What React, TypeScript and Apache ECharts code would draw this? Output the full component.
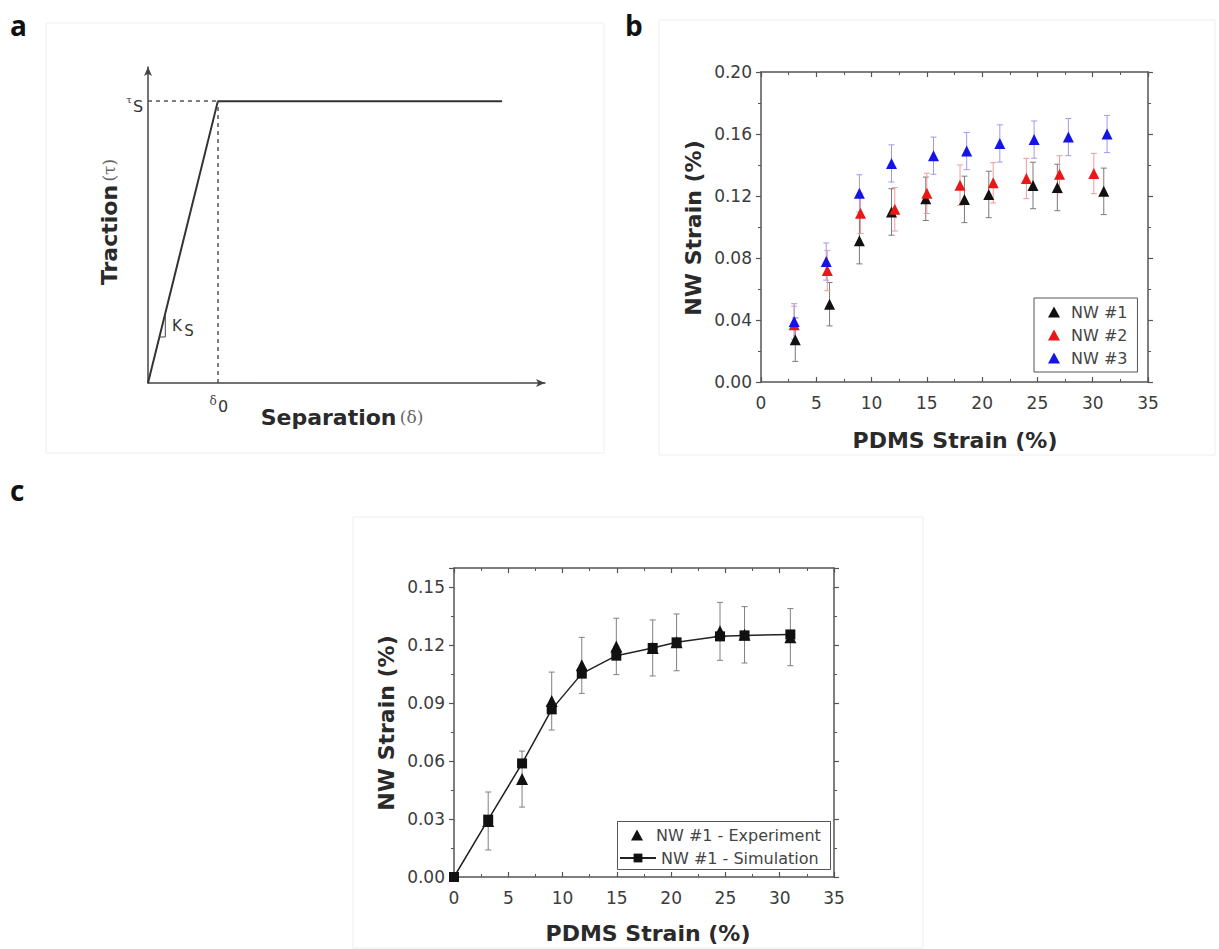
import React, { useEffect, useRef } from 'react';
import * as echarts from 'echarts';

// ---- Panel a (traction–separation law, normalised units) ----
const separation = [0, 0.176, 0.892];
const traction = [0, 0.892, 0.892];
const ksTriX = [0.0287, 0.0436, 0.0436];
const ksTriY = [0.1456, 0.1456, 0.221];

// ---- Panel b ----
const pdmsX1 = [3.1, 6.2, 8.9, 11.8, 14.9, 18.4, 20.6, 24.6, 26.8, 31.0];
const nw1 = [0.0273, 0.0502, 0.0912, 0.1097, 0.1182, 0.1178, 0.121, 0.1268, 0.1255, 0.123];
const nw1Err = [0.014, 0.014, 0.015, 0.015, 0.014, 0.015, 0.015, 0.015, 0.015, 0.015];

const pdmsX2 = [3.0, 6.0, 9.0, 12.1, 15.0, 18.0, 21.0, 24.0, 27.0, 30.1];
const nw2 = [0.0369, 0.0719, 0.1088, 0.1114, 0.1217, 0.127, 0.1285, 0.1313, 0.134, 0.1345];
const nw2Err = [0.012, 0.013, 0.013, 0.014, 0.013, 0.013, 0.013, 0.013, 0.012, 0.013];

const pdmsX3 = [3.0, 5.9, 8.9, 11.8, 15.6, 18.6, 21.6, 24.7, 27.8, 31.3];
const nw3 = [0.039, 0.0777, 0.1217, 0.141, 0.146, 0.149, 0.1539, 0.1564, 0.158, 0.16];
const nw3Err = [0.0115, 0.012, 0.012, 0.012, 0.012, 0.012, 0.012, 0.012, 0.012, 0.012];

const bXTicks = { min: 0, max: 35, interval: 5 };
const bYTicks = { min: 0, max: 0.2, interval: 0.04 };

// ---- Panel c ----
const expX = [3.15, 6.27, 9.0, 11.77, 14.95, 18.3, 20.5, 24.5, 26.76, 30.98];
const expY = [0.029, 0.0507, 0.0911, 0.1096, 0.1194, 0.1186, 0.1215, 0.1272, 0.1254, 0.1242];
const expErr = [0.015, 0.0145, 0.015, 0.0145, 0.0146, 0.0145, 0.0147, 0.015, 0.0146, 0.0148];

const simX = [0, 3.15, 6.27, 9.0, 11.77, 14.95, 18.3, 20.5, 24.5, 26.76, 30.98];
const simY = [0, 0.0297, 0.0588, 0.0868, 0.1053, 0.1146, 0.1186, 0.1215, 0.1246, 0.1251, 0.1256];

const cXTicks = { min: 0, max: 35, interval: 5 };
const cYTicks = { min: 0, max: 0.16, interval: 0.03 };

const AXIS = '#555';
const LABEL = '#3c3c3c';
const TICK_FONT = 'DejaVu Sans';

function boxAxis(
  gridIndex: number,
  position: string,
  t: { min: number; max: number; interval: number },
  showLabels: boolean,
  inside: boolean,
  margin: number,
  formatter?: (v: number) => string
) {
  return {
    type: 'value',
    gridIndex,
    position,
    min: t.min,
    max: t.max,
    interval: t.interval,
    axisLine: { show: true, onZero: false, lineStyle: { color: AXIS, width: 1.5 } },
    axisTick: { show: true, inside, length: 5, lineStyle: { color: AXIS, width: 1.2 } },
    minorTick: { show: true, splitNumber: 2, length: 3, lineStyle: { color: AXIS, width: 1 } },
    axisLabel: {
      show: showLabels,
      margin,
      color: LABEL,
      fontFamily: TICK_FONT,
      fontSize: 17,
      formatter,
    },
    splitLine: { show: false },
  };
}

function errorBars(color: string, capHalf: number) {
  return (_params: any, api: any) => {
    const x = api.value(0);
    const y = api.value(1);
    const e = api.value(2);
    const top = api.coord([x, y + e]);
    const bot = api.coord([x, y - e]);
    const style = { stroke: color, lineWidth: 1 };
    return {
      type: 'group',
      children: [
        { type: 'line', shape: { x1: top[0], y1: top[1], x2: bot[0], y2: bot[1] }, style },
        { type: 'line', shape: { x1: top[0] - capHalf, y1: top[1], x2: top[0] + capHalf, y2: top[1] }, style },
        { type: 'line', shape: { x1: bot[0] - capHalf, y1: bot[1], x2: bot[0] + capHalf, y2: bot[1] }, style },
      ],
    };
  };
}

const zip = (xs: number[], ys: number[]) => xs.map((x, i) => [x, ys[i]]);
const zip3 = (xs: number[], ys: number[], es: number[]) => xs.map((x, i) => [x, ys[i], es[i]]);

const TITLE_FONT = 'DejaVu Sans';

function title(text: string, x: number, y: number, rotate: boolean) {
  return {
    type: 'text',
    x,
    y,
    rotation: rotate ? Math.PI / 2 : 0,
    style: {
      text,
      fill: '#2a2a2a',
      fontFamily: TITLE_FONT,
      fontWeight: 'bold',
      fontSize: 22,
      align: 'center',
      verticalAlign: 'middle',
    },
  };
}

function plain(text: string, x: number, y: number, size: number, family = 'DejaVu Sans', color = '#333') {
  return {
    type: 'text',
    x,
    y,
    style: { text, fill: color, fontFamily: family, fontSize: size, align: 'center', verticalAlign: 'middle' },
  };
}

function panelLetter(text: string, x: number, y: number) {
  return {
    type: 'text',
    x,
    y,
    style: {
      text,
      fill: '#111',
      fontFamily: 'Open Sans',
      fontWeight: 'bold',
      fontSize: 28,
      align: 'left',
      verticalAlign: 'middle',
    },
  };
}

function frame(x: number, y: number, w: number, h: number, stroke = '#eeeeee') {
  return {
    type: 'rect',
    z: -10,
    shape: { x, y, width: w, height: h },
    style: { fill: 'none', stroke, lineWidth: 1 },
  };
}

export default function App() {
  const ref = useRef<HTMLDivElement>(null);

  useEffect(() => {
    if (!ref.current) return;
    const chart = echarts.init(ref.current, undefined, { renderer: 'svg' });

    const fmt2 = (v: number) => v.toFixed(2);
    const fmtC = (v: number) => {
      const k = v / 0.03;
      return Math.abs(k - Math.round(k)) < 1e-6 ? v.toFixed(2) : '';
    };

    const arrowAxis = (gridIndex: number) => ({
      type: 'value',
      gridIndex,
      min: 0,
      max: 1,
      axisLine: {
        show: true,
        onZero: false,
        symbol: ['none', 'arrow'],
        symbolSize: [6, 9],
        lineStyle: { color: '#444', width: 1.5 },
      },
      axisTick: { show: false },
      axisLabel: { show: false },
      splitLine: { show: false },
    });

    const legendText = { fontFamily: TICK_FONT, fontSize: 16, color: '#444' };

    const option: any = {
      animation: false,
      backgroundColor: '#ffffff',
      grid: [
        { left: 148, top: 67, width: 397, height: 316 },
        { left: 761, top: 72, width: 387, height: 310 },
        { left: 454, top: 568, width: 380, height: 309 },
      ],
      xAxis: [
        arrowAxis(0),
        boxAxis(1, 'bottom', bXTicks, true, true, 12),
        boxAxis(1, 'top', bXTicks, false, true, 12),
        boxAxis(2, 'bottom', cXTicks, true, true, 12),
        boxAxis(2, 'top', cXTicks, false, true, 12),
      ],
      yAxis: [
        arrowAxis(0),
        boxAxis(1, 'left', bYTicks, true, false, 9, fmt2),
        boxAxis(1, 'right', bYTicks, false, false, 9),
        boxAxis(2, 'left', cYTicks, true, false, 9, fmtC),
        boxAxis(2, 'right', cYTicks, false, false, 9),
      ],
      legend: [
        {
          orient: 'vertical',
          left: 1034,
          top: 298,
          data: [
            { name: 'NW #1', icon: 'triangle' },
            { name: 'NW #2', icon: 'triangle' },
            { name: 'NW #3', icon: 'triangle' },
          ],
          itemWidth: 12,
          itemHeight: 11,
          itemGap: 7,
          padding: [6, 10, 6, 14],
          borderColor: '#555',
          borderWidth: 1,
          borderRadius: 0,
          textStyle: { ...legendText, padding: [0, 0, 0, 6] },
        },
        {
          orient: 'vertical',
          left: 631,
          top: 827,
          data: [{ name: 'NW #1 - Experiment', icon: 'triangle' }],
          itemWidth: 12,
          itemHeight: 11,
          padding: 0,
          textStyle: { ...legendText, padding: [0, 0, 0, 8] },
        },
        {
          orient: 'vertical',
          left: 619,
          top: 850,
          data: ['NW #1 - Simulation'],
          itemWidth: 36,
          itemHeight: 11,
          padding: 0,
          textStyle: { ...legendText },
        },
      ],
      series: [
        // Panel a
        {
          type: 'line',
          xAxisIndex: 0,
          yAxisIndex: 0,
          data: zip(separation, traction),
          symbol: 'none',
          lineStyle: { color: '#333', width: 2 },
          markLine: {
            silent: true,
            symbol: ['none', 'none'],
            label: { show: false },
            lineStyle: { type: [4, 4], color: '#555', width: 1.5 },
            data: [
              [{ coord: [0, traction[1]] }, { coord: [separation[1], traction[1]] }],
              [{ coord: [separation[1], 0] }, { coord: [separation[1], traction[1]] }],
            ],
          },
        },
        {
          type: 'line',
          xAxisIndex: 0,
          yAxisIndex: 0,
          data: zip(ksTriX, ksTriY),
          symbol: 'none',
          lineStyle: { color: '#444', width: 1 },
        },
        // Panel b error bars
        {
          type: 'custom',
          xAxisIndex: 1,
          yAxisIndex: 1,
          renderItem: errorBars('#7a7a7a', 3),
          data: zip3(pdmsX1, nw1, nw1Err),
          encode: { x: 0, y: 1 },
          silent: true,
          z: 1,
        },
        {
          type: 'custom',
          xAxisIndex: 1,
          yAxisIndex: 1,
          renderItem: errorBars('#f29a9a', 3),
          data: zip3(pdmsX2, nw2, nw2Err),
          encode: { x: 0, y: 1 },
          silent: true,
          z: 1,
        },
        {
          type: 'custom',
          xAxisIndex: 1,
          yAxisIndex: 1,
          renderItem: errorBars('#9a9af2', 3),
          data: zip3(pdmsX3, nw3, nw3Err),
          encode: { x: 0, y: 1 },
          silent: true,
          z: 1,
        },
        // Panel b markers
        {
          name: 'NW #1',
          type: 'scatter',
          xAxisIndex: 1,
          yAxisIndex: 1,
          data: zip(pdmsX1, nw1),
          symbol: 'triangle',
          symbolSize: 11,
          itemStyle: { color: '#111111', opacity: 1 },
          z: 3,
        },
        {
          name: 'NW #2',
          type: 'scatter',
          xAxisIndex: 1,
          yAxisIndex: 1,
          data: zip(pdmsX2, nw2),
          symbol: 'triangle',
          symbolSize: 11,
          itemStyle: { color: '#e81818', opacity: 1 },
          z: 3,
        },
        {
          name: 'NW #3',
          type: 'scatter',
          xAxisIndex: 1,
          yAxisIndex: 1,
          data: zip(pdmsX3, nw3),
          symbol: 'triangle',
          symbolSize: 11,
          itemStyle: { color: '#1414e6', opacity: 1 },
          z: 3,
        },
        // Panel c
        {
          type: 'custom',
          xAxisIndex: 3,
          yAxisIndex: 3,
          renderItem: errorBars('#808080', 3),
          data: zip3(expX, expY, expErr),
          encode: { x: 0, y: 1 },
          silent: true,
          z: 1,
        },
        {
          name: 'NW #1 - Experiment',
          type: 'scatter',
          xAxisIndex: 3,
          yAxisIndex: 3,
          data: zip(expX, expY),
          symbol: 'triangle',
          symbolSize: 12,
          itemStyle: { color: '#111111', opacity: 1 },
          z: 3,
        },
        {
          name: 'NW #1 - Simulation',
          type: 'line',
          xAxisIndex: 3,
          yAxisIndex: 3,
          data: zip(simX, simY),
          symbol: 'rect',
          symbolSize: 10,
          showAllSymbol: true,
          lineStyle: { color: '#222', width: 1.5 },
          itemStyle: { color: '#111111' },
          z: 4,
        },
      ],
      graphic: [
        frame(46, 23, 558, 430),
        frame(659, 20, 556, 435),
        frame(353, 517, 570, 431),
        { type: 'rect', shape: { x: 617.5, y: 821.5, width: 213, height: 48 }, style: { fill: 'none', stroke: '#555', lineWidth: 1 } },
        panelLetter('a', 10, 25),
        panelLetter('b', 625, 25),
        panelLetter('c', 10, 490),
        // Panel a annotations
        {
          type: 'text',
          x: 109,
          y: 222,
          rotation: Math.PI / 2,
          style: {
            text: '{b|Traction} {n|(τ)}',
            align: 'center',
            verticalAlign: 'middle',
            rich: {
              b: { fontFamily: TITLE_FONT, fontWeight: 'bold', fontSize: 22, fill: '#2a2a2a' },
              n: { fontFamily: 'DejaVu Serif', fontSize: 17, fill: '#666' },
            },
          },
        },
        {
          type: 'text',
          x: 342,
          y: 417,
          style: {
            text: '{b|Separation} {n|(δ)}',
            align: 'center',
            verticalAlign: 'middle',
            rich: {
              b: { fontFamily: TITLE_FONT, fontWeight: 'bold', fontSize: 22, fill: '#2a2a2a' },
              n: { fontFamily: 'DejaVu Serif', fontSize: 17, fill: '#666' },
            },
          },
        },
        plain('τ', 129, 99, 10, 'DejaVu Serif', '#444'),
        plain('S', 138, 106, 16, 'DejaVu Sans', '#333'),
        plain('δ', 213, 401, 12, 'DejaVu Serif', '#444'),
        plain('0', 223, 406, 16, 'DejaVu Sans', '#333'),
        plain('K', 177, 326, 15, 'DejaVu Sans', '#333'),
        plain('S', 189, 331, 15, 'DejaVu Sans', '#333'),
        // Panel b titles
        title('NW Strain (%)', 693, 228, true),
        title('PDMS Strain (%)', 955, 440, false),
        // Panel c titles
        title('NW Strain (%)', 386, 723, true),
        title('PDMS Strain (%)', 648, 933, false),
      ],
    };

    chart.setOption(option);
    return () => chart.dispose();
  }, []);

  return (
    <div
      ref={ref}
      style={{ position: 'absolute', left: 0, top: 0, width: 1219, height: 949, background: '#fff' }}
    />
  );
}
